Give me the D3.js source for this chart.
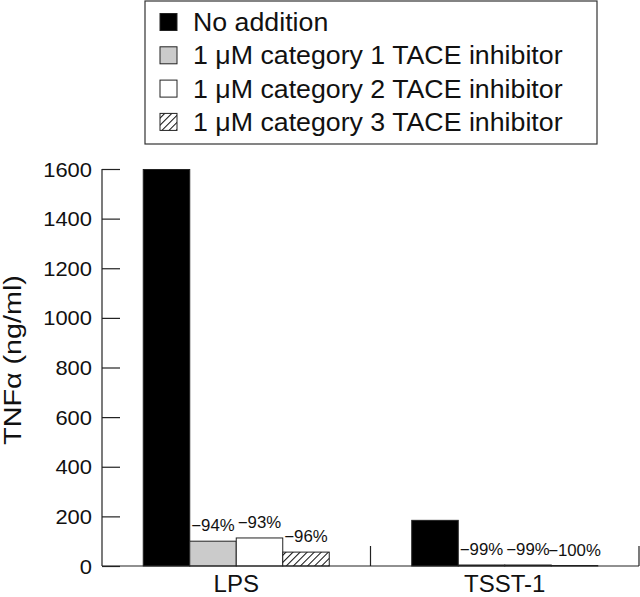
<!DOCTYPE html>
<html>
<head>
<meta charset="utf-8">
<script src="https://cdn.jsdelivr.net/npm/d3@7"></script>
<style>
  body { margin: 0; background: #fff; }
  svg { font-family: "Liberation Sans", Arial, Helvetica, sans-serif; }
</style>
</head>
<body>
<svg width="640" height="597"></svg>
<script>
// data
var categories = ["LPS", "TSST-1"];
var series = ["No addition", "1 \u03bcM category 1 TACE inhibitor", "1 \u03bcM category 2 TACE inhibitor", "1 \u03bcM category 3 TACE inhibitor"];
var lpsValues = [1598, 100, 113, 56];
var tsstValues = [184, 4, 4, 2];
var lpsLabels = ["", "\u221294%", "\u221293%", "\u221296%"];
var tsstLabels = ["", "\u221299%", "\u221299%", "\u2212100%"];
var yTicks = [0, 200, 400, 600, 800, 1000, 1200, 1400, 1600];

var values = [lpsValues, tsstValues];
var labels = [lpsLabels, tsstLabels];

var svg = d3.select("svg");

var defs = svg.append("defs");
var pat = defs.append("pattern")
    .attr("id", "hatch")
    .attr("patternUnits", "userSpaceOnUse")
    .attr("width", 5).attr("height", 5)
    .attr("patternTransform", "rotate(45)");
pat.append("rect").attr("width", 5).attr("height", 5).attr("fill", "#fff");
pat.append("line").attr("x1", 0).attr("y1", 0).attr("x2", 0).attr("y2", 5)
    .attr("stroke", "#111").attr("stroke-width", 2);

var fills = ["#000", "#cbcbcb", "#fff", "url(#hatch)"];

var x0 = 102, x1 = 639, yTop = 169, yBase = 566;

var x = d3.scaleBand().domain(categories).range([x0, x1]);
var xs = d3.scaleBand().domain(d3.range(series.length))
    .range([0, x.bandwidth()]).paddingOuter(0.887);
var y = d3.scaleLinear().domain([0, 1600]).range([yBase, yTop]);

// y axis
var yAxis = svg.append("g")
    .attr("transform", "translate(" + x0 + ",0)")
    .call(d3.axisRight(y).tickValues(yTicks).tickSize(18).tickFormat(""));
yAxis.select(".domain").attr("d", "M0," + yTop + "V" + yBase);
yAxis.selectAll("line").attr("stroke", "#222").attr("stroke-width", 1.2);
yAxis.select(".domain").attr("stroke", "#222").attr("stroke-width", 1.2);

svg.append("g").selectAll("text")
    .data(yTicks)
    .enter().append("text")
    .attr("transform", d => "translate(92," + (y(d) + 7.5) + ") scale(1.07,1)")
    .attr("text-anchor", "end")
    .attr("font-size", 20.5)
    .attr("fill", "#111")
    .text(d => d);

svg.append("text")
    .attr("transform", "translate(21,360) rotate(-90) scale(1.25,1)")
    .attr("text-anchor", "middle")
    .attr("font-size", 23)
    .attr("fill", "#111")
    .text("TNF\u03b1 (ng/ml)");

// bars
var groups = svg.append("g").selectAll("g")
    .data(categories)
    .enter().append("g")
    .attr("transform", d => "translate(" + x(d) + ",0)");

groups.selectAll("rect")
    .data((d, i) => values[i].map((v, j) => ({v: v, j: j})))
    .enter().append("rect")
    .attr("x", d => xs(d.j))
    .attr("y", d => y(d.v))
    .attr("width", xs.bandwidth())
    .attr("height", d => yBase - y(d.v))
    .attr("fill", d => fills[d.j])
    .attr("stroke", "#222")
    .attr("stroke-width", 1);

groups.selectAll("text.pct")
    .data((d, i) => labels[i].map((t, j) => ({t: t, j: j, v: values[i][j]})))
    .enter().append("text")
    .attr("class", "pct")
    .attr("transform", d => "translate(" + (xs(d.j) + xs.bandwidth() / 2) + "," + (y(d.v) - 10) + ") scale(1.05,1)")
    .attr("text-anchor", "middle")
    .attr("font-size", 16)
    .attr("fill", "#111")
    .text(d => d.t);

// x axis
var xAxis = svg.append("g");
xAxis.append("line")
    .attr("x1", x0).attr("x2", x1)
    .attr("y1", yBase).attr("y2", yBase)
    .attr("stroke", "#222").attr("stroke-width", 1.2);
xAxis.selectAll("line.tk")
    .data(categories)
    .enter().append("line")
    .attr("class", "tk")
    .attr("x1", d => x(d) + x.bandwidth()).attr("x2", d => x(d) + x.bandwidth())
    .attr("y1", yBase - 20).attr("y2", yBase)
    .attr("stroke", "#222").attr("stroke-width", 1.2);
xAxis.selectAll("text")
    .data(categories)
    .enter().append("text")
    .attr("x", d => x(d) + x.bandwidth() / 2)
    .attr("y", 592)
    .attr("text-anchor", "middle")
    .attr("font-size", 24)
    .attr("fill", "#111")
    .text(d => d);

// legend
var legend = svg.append("g");
legend.append("rect")
    .attr("x", 145).attr("y", 1)
    .attr("width", 452).attr("height", 143)
    .attr("fill", "#fff").attr("stroke", "#333").attr("stroke-width", 1.2);

var rows = legend.selectAll("g")
    .data(series)
    .enter().append("g")
    .attr("transform", (d, i) => "translate(0," + (22 + i * 33.3) + ")");
rows.append("rect")
    .attr("x", 160).attr("y", -8.5)
    .attr("width", 17).attr("height", 17)
    .attr("fill", (d, i) => fills[i])
    .attr("stroke", "#222").attr("stroke-width", 1);
rows.append("text")
    .attr("transform", "translate(193,9) scale(1.07,1)")
    .attr("font-size", 25)
    .attr("fill", "#111")
    .text(d => d);
</script>
</body>
</html>
